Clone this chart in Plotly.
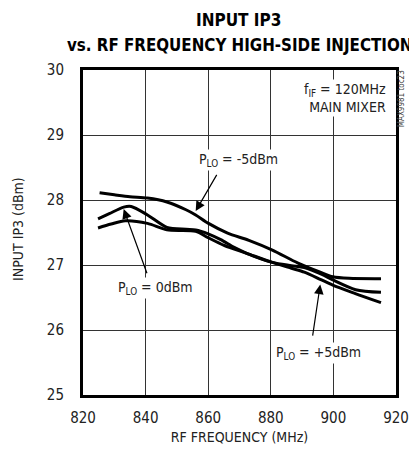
import plotly.graph_objects as go

freq_m5 = [825.3, 830, 835, 840.6, 846.8, 852.9, 856.0, 860.1, 866.2, 873, 880.5, 888.7, 895.8, 899.8, 905, 915.2]
ip3_m5 = [28.11, 28.08, 28.05, 28.03, 27.97, 27.85, 27.77, 27.64, 27.49, 27.38, 27.23, 27.03, 26.89, 26.82, 26.795, 26.79]

freq_0 = [824.8, 828.4, 833.0, 835.4, 840.6, 846.8, 852.9, 856.0, 860.0, 864.0, 868.3, 872.3, 880.5, 886.6, 890.7, 896.5, 899.8, 907.1, 915.2]
ip3_0 = [27.71, 27.79, 27.89, 27.90, 27.77, 27.58, 27.55, 27.54, 27.48, 27.39, 27.27, 27.18, 27.04, 26.99, 26.96, 26.85, 26.77, 26.62, 26.58]

freq_p5 = [824.8, 829, 833.5, 840.6, 846.8, 856.0, 860.0, 865.2, 872.3, 880.5, 886.6, 890.7, 895.8, 899.8, 907, 915.2]
ip3_p5 = [27.57, 27.63, 27.68, 27.64, 27.54, 27.52, 27.42, 27.30, 27.18, 27.04, 26.95, 26.89, 26.78, 26.69, 26.56, 26.42]

x_ticks = [820, 840, 860, 880, 900, 920]
y_ticks = [25, 26, 27, 28, 29, 30]

FONT = "DejaVu Sans Condensed, Liberation Sans Narrow, Roboto, Liberation Sans, sans-serif"

fig = go.Figure()
for fx, fy in [(freq_m5, ip3_m5), (freq_0, ip3_0), (freq_p5, ip3_p5)]:
    fig.add_trace(go.Scatter(x=fx, y=fy, mode="lines", line=dict(color="black", width=3, shape="spline", smoothing=0.8),
                             showlegend=False, hoverinfo="skip"))

ann = []
labels = [
    ("P<sub>LO</sub> = -5dBm", 869.8, 28.61),
    ("P<sub>LO</sub> = 0dBm", 843.1, 26.64),
    ("P<sub>LO</sub> = +5dBm", 895.2, 25.65),
]
for t, x, y in labels:
    ann.append(dict(text=t, x=x, y=y, xref="x", yref="y", showarrow=False, bgcolor="white",
                    font=dict(family=FONT, size=14, color="#222"), xanchor="center", yanchor="middle", borderpad=1))
ann.append(dict(text="f<sub>IF</sub> = 120MHz<br>MAIN MIXER", x=917.6, y=29.57, xref="x", yref="y", showarrow=False,
                bgcolor="white", align="right", xanchor="right", yanchor="middle",
                font=dict(family=FONT, size=14, color="#222"), borderpad=1))
arrows = [
    (856.0, 27.83, 863.0, 28.41),
    (833.0, 27.86, 840.6, 26.85),
    (895.8, 26.70, 893.3, 25.89),
]
for x, y, ax, ay in arrows:
    ann.append(dict(text="", x=x, y=y, ax=ax, ay=ay, xref="x", yref="y", axref="x", ayref="y",
                    showarrow=True, arrowhead=2, arrowsize=1.6, arrowwidth=1.2, arrowcolor="black"))
ann.append(dict(text="MAX9981 toc23", x=1.0, y=29.55, xref="paper", yref="y", xshift=5, showarrow=False,
                textangle=-90, font=dict(family=FONT, size=8, color="#444"), xanchor="center", yanchor="middle"))
# title lines
ann.append(dict(text="<b>INPUT IP3</b>", x=0.497, y=1.154, xref="paper", yref="paper", showarrow=False,
                xanchor="center", yanchor="middle", font=dict(family=FONT, size=17, color="black")))
ann.append(dict(text="<b>vs. RF FREQUENCY HIGH-SIDE INJECTION</b>", x=0.50, y=1.078, xref="paper", yref="paper",
                showarrow=False, xanchor="center", yanchor="middle", font=dict(family=FONT, size=16.8, color="black")))
# y-axis title
ann.append(dict(text="INPUT IP3 (dBm)", x=-0.2055, y=0.51, xref="paper", yref="paper", showarrow=False,
                textangle=-90, xanchor="center", yanchor="middle", font=dict(family=FONT, size=14, color="#222")))

fig.update_layout(
    width=409, height=444,
    margin=dict(l=75, r=8, t=62, b=57),
    paper_bgcolor="white", plot_bgcolor="white",
    font=dict(family=FONT, size=15, color="#222"),
    annotations=ann,
    xaxis=dict(range=[820, 920], tickvals=x_ticks, ticktext=[str(v) for v in x_ticks], showgrid=True,
               gridcolor="#333", gridwidth=1, showline=True, linecolor="black", linewidth=3, mirror=True,
               zeroline=False, ticks="", ticklabelstandoff=7, ticklabeloverflow="allow",
               title=dict(text="RF FREQUENCY (MHz)", standoff=7, font=dict(family=FONT, size=14))),
    yaxis=dict(range=[25, 30], tickvals=y_ticks, ticktext=[str(v) for v in y_ticks], showgrid=True,
               gridcolor="#333", gridwidth=1, showline=True, linecolor="black", linewidth=3, mirror=True,
               zeroline=False, ticks="", ticklabelstandoff=13),
)
fig.write_html("out.html")
